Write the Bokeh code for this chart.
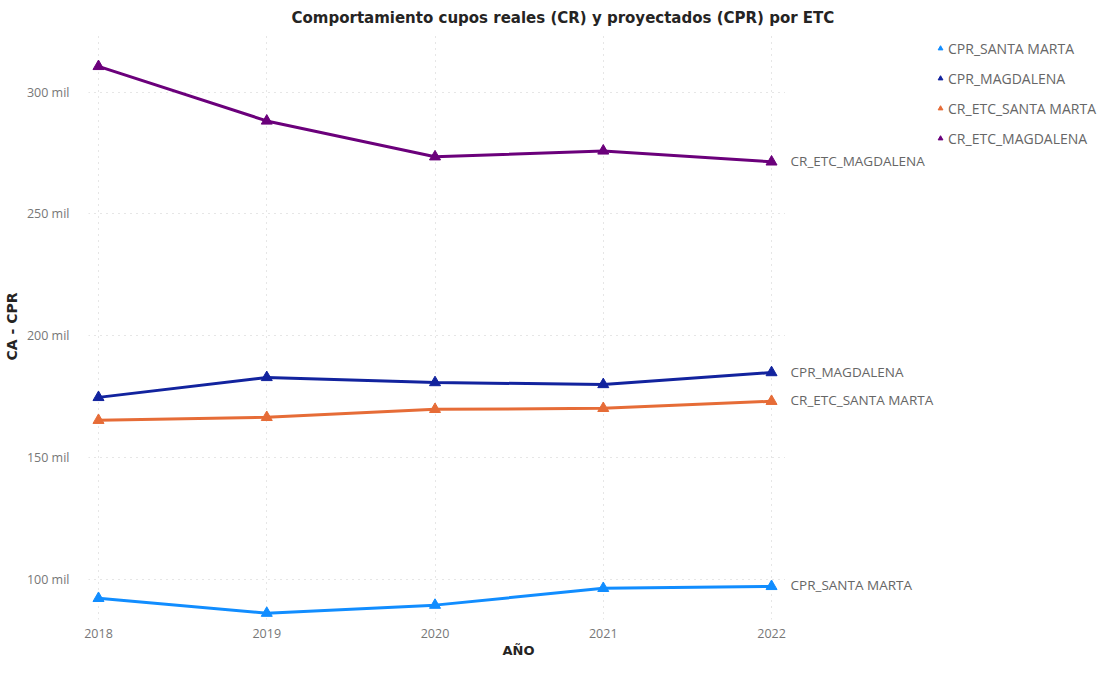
from bokeh.plotting import figure
from bokeh.models import (Range1d, FixedTicker, CustomJSTickFormatter, Legend, LegendItem,
                          ColumnDataSource, Title, BoxAnnotation)
from bokeh.core.properties import value
from bokeh.embed import file_html
from bokeh.resources import INLINE

years = [2018, 2019, 2020, 2021, 2022]
series_names = ["CPR_SANTA MARTA", "CPR_MAGDALENA", "CR_ETC_SANTA MARTA", "CR_ETC_MAGDALENA"]
cpr_santa_marta = [92200, 86100, 89400, 96300, 97100]
cpr_magdalena = [174700, 182900, 180800, 180000, 184900]
cr_etc_santa_marta = [165300, 166500, 169800, 170200, 173100]
cr_etc_magdalena = [310600, 288200, 273500, 275900, 271400]
series_values = [cpr_santa_marta, cpr_magdalena, cr_etc_santa_marta, cr_etc_magdalena]
colors = ["#118DFF", "#12239E", "#E66C37", "#6B007B"]
y_ticks = [100000, 150000, 200000, 250000, 300000]

FONT = "Open Sans"
TFONT = "DejaVu Sans"

p = figure(width=1101, height=657, output_backend="svg", toolbar_location=None,
           x_range=Range1d(2017.9406, 2023.961), y_range=Range1d(83500, 324100),
           min_border_left=80, min_border_right=0, min_border_top=0, min_border_bottom=0,
           title="Comportamiento cupos reales (CR) y proyectados (CPR) por ETC")
p.outline_line_color = None
p.background_fill_color = "white"

p.title.align = "left"
p.title.offset = 203
p.title.text_font = TFONT
p.title.text_font_style = "bold"
p.title.text_font_size = "15px"
p.title.text_color = "#252423"
p.title.standoff = 13

# axes
p.xaxis.ticker = FixedTicker(ticks=years)
p.yaxis.ticker = FixedTicker(ticks=y_ticks)
p.yaxis.formatter = CustomJSTickFormatter(code="return (tick/1000).toFixed(0) + ' mil';")
for ax in (p.xaxis[0], p.yaxis[0]):
    ax.axis_line_color = None
    ax.major_tick_line_color = None
    ax.minor_tick_line_color = None
    ax.major_label_text_font = FONT
    ax.major_label_text_font_size = "12.5px"
    ax.major_label_text_color = "#777777"
    ax.axis_label_text_font = TFONT
    ax.axis_label_text_font_style = "bold"
    ax.axis_label_text_font_size = "14px"
    ax.axis_label_text_color = "#252423"
p.xaxis.major_tick_out = 0
p.xaxis.major_tick_in = 0
p.yaxis.axis_label = "CA - CPR"
p.xaxis.major_label_standoff = 9
p.yaxis.major_label_standoff = 13
p.yaxis.axis_label_standoff = 4

xt = Title(text="AÑO", align="left", offset=414, text_font=TFONT, text_font_style="bold",
           text_font_size="13px", text_color="#252423", standoff=0)
p.add_layout(xt, "below")

for g in (p.xgrid[0], p.ygrid[0]):
    g.grid_line_color = "#cccccc"
    g.grid_line_dash = "1 5"
    g.grid_line_width = 1

# blank out grid area right of the data region (label/legend zone)
mask = BoxAnnotation(left=years[-1] + 0.08, fill_color="white", fill_alpha=1,
                     line_color=None, level="underlay")
p.add_layout(mask)

items = []
for name, vals, col in zip(series_names, series_values, colors):
    src = ColumnDataSource(dict(x=years, y=vals))
    p.line("x", "y", source=src, line_color=col, line_width=3)
    r = p.scatter("x", "y", source=src, marker="triangle", size=11, fill_color=col, line_color=col)
    items.append(LegendItem(label=name, renderers=[r]))
    end = ColumnDataSource(dict(x=[years[-1]], y=[vals[-1]], t=[name]))
    p.text("x", "y", text="t", source=end, x_offset=19, y_offset=-1,
           text_font=value(FONT), text_font_size="13.5px", text_color="#666666",
           text_baseline="middle", text_align="left")

legend = Legend(items=items, location="top_right", orientation="vertical")
legend.border_line_color = None
legend.background_fill_alpha = 0
legend.margin = 5
legend.padding = 0
legend.spacing = 10
legend.label_height = 20
legend.glyph_height = 12
legend.glyph_width = 12
legend.label_standoff = 2
legend.label_text_font = FONT
legend.label_text_font_size = "14px"
legend.label_text_color = "#666666"
p.add_layout(legend)

open("out.html", "w").write(file_html(p, INLINE))
